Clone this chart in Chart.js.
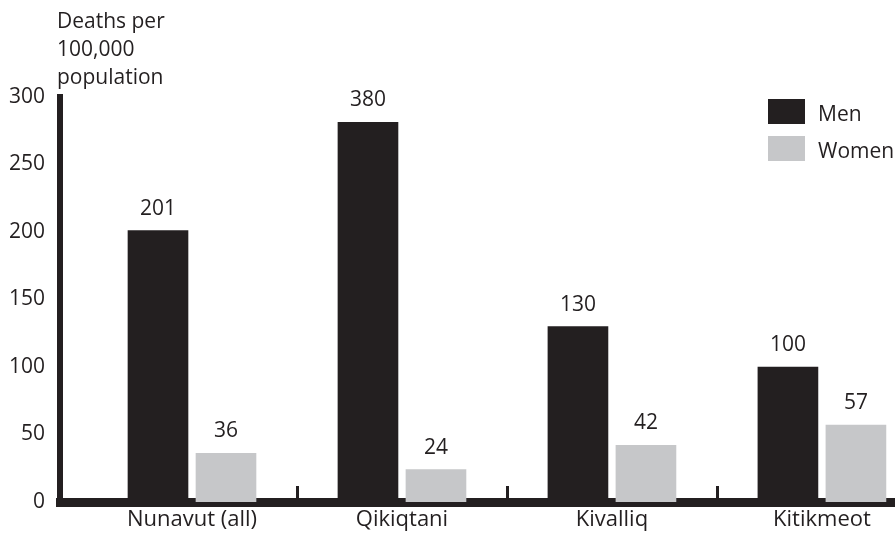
<!DOCTYPE html>
<html>
<head>
<meta charset="utf-8">
<script src="https://cdn.jsdelivr.net/npm/chart.js@4/dist/chart.umd.min.js"></script>
<style>
  html, body { margin: 0; padding: 0; background: #ffffff; }
  #wrap { width: 895px; height: 536px; position: relative; }
</style>
</head>
<body>
<div id="wrap"><canvas id="c" width="895" height="536"></canvas></div>
<script>
// Mortality rates by region, per 100,000 population
const regions = ['Nunavut (all)', 'Qikiqtani', 'Kivalliq', 'Kitikmeot'];
const menRates = [201, 380, 130, 100];
const womenRates = [36, 24, 42, 57];
const yTicks = [0, 50, 100, 150, 200, 250, 300];
const yTitle = ['Deaths per', '100,000', 'population'];
const seriesNames = ['Men', 'Women'];

const INK = '#231f20';
const MEN_COLOR = '#231f20';
const WOMEN_COLOR = '#c6c7c9';
const FONT = "'Open Sans', 'DejaVu Sans', sans-serif";
const TRUNC_INSET = 25;   // off-scale bars are cut this far below the top of the plot

Chart.defaults.font.family = FONT;
Chart.defaults.font.size = 21;
Chart.defaults.color = INK;

const toPoints = vals => vals.map((v, i) => ({ x: i, y: v }));

// Value labels above each bar (off-scale bars get their label above the cut)
const valueLabels = {
  id: 'valueLabels',
  afterDatasetsDraw(chart) {
    const { ctx, chartArea } = chart;
    const cutTop = chartArea.top + TRUNC_INSET;
    ctx.save();
    ctx.font = '21px ' + FONT;
    ctx.fillStyle = INK;
    ctx.textAlign = 'center';
    ctx.textBaseline = 'alphabetic';
    chart.data.datasets.forEach((ds, di) => {
      chart.getDatasetMeta(di).data.forEach((bar, i) => {
        const top = Math.max(bar.y, cutTop);
        ctx.fillText(String(ds.data[i].y), bar.x, top - 16);
      });
    });
    ctx.restore();
  }
};

// Short separator marks between region groups, standing on the baseline
const groupSeparators = {
  id: 'groupSeparators',
  afterDatasetsDraw(chart) {
    const { ctx, chartArea, scales } = chart;
    ctx.save();
    ctx.strokeStyle = INK;
    ctx.lineWidth = 3;
    for (let i = 0; i < regions.length - 1; i++) {
      const x = Math.round(scales.x.getPixelForValue(i + 0.5)) + 0.5;
      ctx.beginPath();
      ctx.moveTo(x, chartArea.bottom);
      ctx.lineTo(x, chartArea.bottom - 16);
      ctx.stroke();
    }
    ctx.restore();
  }
};

// Axis title at the top left and the legend at the top right
const annotations = {
  id: 'annotations',
  afterDraw(chart) {
    const { ctx } = chart;
    ctx.save();
    ctx.font = '21px ' + FONT;
    ctx.fillStyle = INK;
    ctx.textAlign = 'left';
    ctx.textBaseline = 'alphabetic';
    yTitle.forEach((line, i) => ctx.fillText(line, 57, 28 + i * 28));

    chart.data.datasets.forEach((ds, i) => {
      const y = 99 + i * 37;
      ctx.fillStyle = ds.backgroundColor;
      ctx.fillRect(768, y, 37, 25);
      ctx.fillStyle = INK;
      ctx.fillText(ds.label, 818, y + 22);
    });
    ctx.restore();
  }
};

new Chart(document.getElementById('c'), {
  type: 'bar',
  data: {
    datasets: [
      {
        label: seriesNames[0],
        data: toPoints(menRates),
        backgroundColor: MEN_COLOR,
        barThickness: 68,
        maxBarThickness: 60,
        clip: { left: 10, right: 10, top: -TRUNC_INSET, bottom: 0 }
      },
      {
        label: seriesNames[1],
        data: toPoints(womenRates),
        backgroundColor: WOMEN_COLOR,
        barThickness: 68,
        maxBarThickness: 60,
        clip: { left: 10, right: 10, top: -TRUNC_INSET, bottom: 0 }
      }
    ]
  },
  options: {
    responsive: false,
    animation: false,
    events: [],
    layout: { padding: { top: 97, right: 0, bottom: 0, left: 0 } },
    plugins: {
      legend: { display: false },
      tooltip: { enabled: false },
      title: { display: false }
    },
    scales: {
      x: {
        type: 'linear',
        min: -0.6286,
        max: 3.348,
        offset: false,
        z: 1,
        grid: { display: false, drawTicks: false, offset: false },
        border: { display: true, color: INK, width: 9 },
        afterBuildTicks: s => { s.ticks = regions.map((_, i) => ({ value: i })); },
        afterFit: s => { s.height = 34; },
        ticks: {
          autoSkip: false,
          maxRotation: 0,
          padding: 5,
          color: INK,
          font: { size: 22 },
          callback: v => regions[v] ?? ''
        }
      },
      y: {
        min: 0,
        max: 300,
        z: 1,
        grid: { display: false, drawTicks: false },
        border: { display: true, color: INK, width: 6 },
        afterBuildTicks: s => { s.ticks = yTicks.map(v => ({ value: v })); },
        afterFit: s => { s.width = 60; },
        ticks: {
          padding: 15,
          color: INK,
          font: { size: 21 }
        }
      }
    }
  },
  plugins: [valueLabels, groupSeparators, annotations]
});
</script>
</body>
</html>
